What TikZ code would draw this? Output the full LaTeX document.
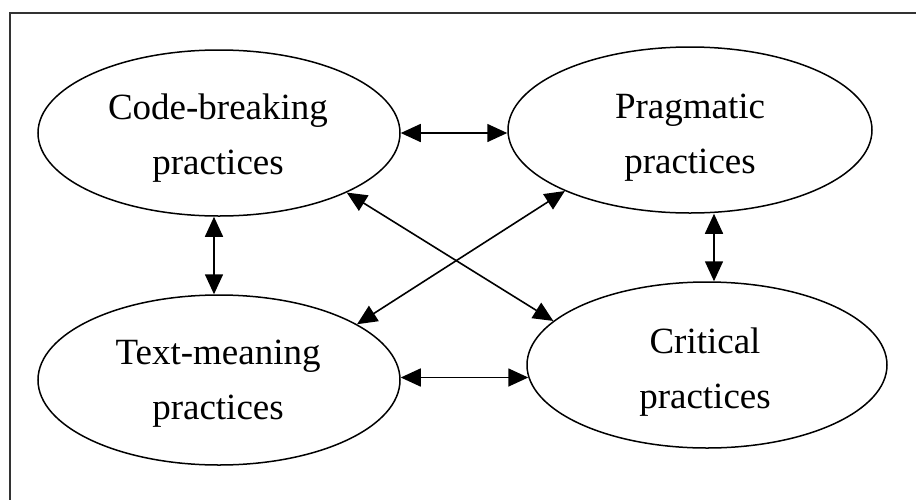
\documentclass[tikz,border=0pt]{standalone}
\usepackage{fontspec}
\setmainfont{Liberation Serif}
\usetikzlibrary{shapes.geometric,arrows.meta}
\begin{document}
\begin{tikzpicture}[x=1pt,y=-1pt,
  oval/.style={ellipse,draw,line width=1.5pt,inner sep=0pt},
  words/.style={align=center,inner sep=0pt,font=\fontsize{37}{55}\selectfont},
  link/.style={line width=1.6pt,{Triangle[length=20pt,width=18pt]}-{Triangle[length=20pt,width=18pt]}}]
\clip (0,0) rectangle (916,499);
\draw[line width=2pt,black!80] (10,13) rectangle (960,540);
\node[oval,minimum width=362pt,minimum height=166pt] (cb) at (219,133) {};
\node[oval,minimum width=364pt,minimum height=166pt] (pr) at (690,130) {};
\node[oval,minimum width=362pt,minimum height=170pt] (tm) at (219,380) {};
\node[oval,minimum width=360pt,minimum height=166pt] (cr) at (707,365) {};
\node[words] (cbt) at (218,138) {Code-breaking\\practices};
\node[words] (prt) at (690,138) {Pragmatic\\practices};
\node[words] (tmt) at (218,384) {Text-meaning\\practices};
\node[words] (crt) at (705,372) {Critical\\practices};
\draw[link] (cb.east) -- (cb.east -| pr.west);
\draw[link] (tm.east |- cr.184) -- (cr.184);
\draw[link] (cb.south -| 214,0) -- (tm.north -| 214,0);
\draw[link] (pr.south -| 714,0) -- (cr.north -| 714,0);
\draw[link] (cb.-25) -- (cr.164);
\draw[link] (pr.206) -- (tm.22);
\end{tikzpicture}
\end{document}
